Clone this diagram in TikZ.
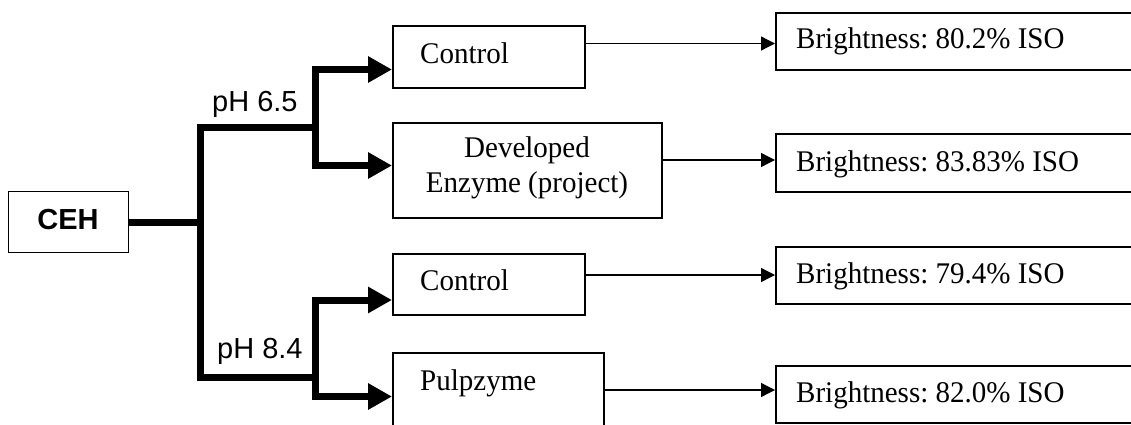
\documentclass[tikz,border=0pt]{standalone}
\usepackage{fontspec}
\setmainfont{Liberation Serif}[FakeStretch=0.967]
\newfontfamily\arialfont{Liberation Sans}
\usetikzlibrary{arrows.meta}
\frenchspacing
\begin{document}
\begin{tikzpicture}[x=1pt,y=-1pt,
  box/.style={draw, line width=1.6pt, rectangle, inner sep=0pt, anchor=north west},
  txt/.style={inner sep=0pt, anchor=base west, font=\fontsize{30}{36}\selectfont},
  ctxt/.style={txt, anchor=base},
  ptxt/.style={inner sep=0pt, anchor=base west, font=\arialfont\fontsize{29}{35}\selectfont},
  trunkline/.style={line width=7pt, line join=miter},
  branchline/.style={line width=7pt, line cap=rect},
  bigarrow/.style={line width=7pt, -{Triangle[length=24pt,width=25pt]}},
  smallarrow/.style={line width=1.3pt, -{Triangle[length=14pt,width=14pt]}},
]
\useasboundingbox (0,0) rectangle (1131,425);
\clip (0,0) rectangle (1131,425);

% boxes
\node[box, line width=1.2pt, minimum width=120pt, minimum height=61pt] (ceh) at (8,191) {};
\node[box, minimum width=192pt, minimum height=62pt] (c1) at (392,25) {};
\node[box, minimum width=269pt, minimum height=95pt] (dev) at (392,122) {};
\node[box, minimum width=192pt, minimum height=61pt] (c2) at (392,253) {};
\node[box, minimum width=211pt, minimum height=90pt] (pz) at (392,352) {};
\node[box, minimum width=370pt, minimum height=57pt] (b1) at (775,12) {};
\node[box, minimum width=370pt, minimum height=58pt] (b2) at (775,133) {};
\node[box, minimum width=370pt, minimum height=57pt] (b3) at (775,246) {};
\node[box, minimum width=370pt, minimum height=57pt] (b4) at (775,365) {};

% box texts
\node[ptxt, anchor=base, font=\arialfont\bfseries\fontsize{29}{35}\selectfont] (tceh) at (68,229) {CEH};
\node[txt] (tc1) at (420,64) {Control};
\node[ctxt] (tdev1) at (527,157.5) {Developed};
\node[ctxt] (tdev2) at (527,192.5) {Enzyme (project)};
\node[txt] (tc2) at (420,290) {Control};
\node[txt] (tpz) at (420,390) {Pulpzyme};
\node[txt] (tb1) at (796,49) {Brightness: 80.2\% ISO};
\node[txt] (tb2) at (796,171.5) {Brightness: 83.83\% ISO};
\node[txt] (tb3) at (796,283) {Brightness: 79.4\% ISO};
\node[txt] (tb4) at (796,402) {Brightness: 82.0\% ISO};

% pH labels
\node[ptxt] (ph1) at (212,111) {pH 6.5};
\node[ptxt] (ph2) at (217,358) {pH 8.4};

% junction points of the thick tree
\coordinate (j0) at (200,222.8);
\coordinate (jt) at (200,127.5);
\coordinate (jb) at (200,377);
\coordinate (ju) at (315.5,127.5);
\coordinate (jl) at (315.5,377);
\coordinate (ut) at (315.5,69.5);
\coordinate (ub) at (315.5,165.5);
\coordinate (lt) at (315.5,300);
\coordinate (lb) at (315.5,396.5);

% thick tree
\draw[line width=7pt] (ceh.east |- j0) -- (j0);
\draw[trunkline] (ju) -- (jt) -- (jb) -- (jl);
\draw[branchline] (ut) -- (ub);
\draw[branchline] (lt) -- (lb);
\draw[bigarrow] (ut) -- (c1.west |- ut);
\draw[bigarrow] (ub) -- (dev.west |- ub);
\draw[bigarrow] (lt) -- (c2.west |- lt);
\draw[bigarrow] (lb) -- (pz.west |- lb);

% thin arrows to the results
\coordinate (a1) at (0,43.5);
\coordinate (a2) at (0,160);
\coordinate (a3) at (0,275);
\coordinate (a4) at (0,390);
\draw[smallarrow] (c1.east |- a1) -- (b1.west |- a1);
\draw[smallarrow] (dev.east |- a2) -- (b2.west |- a2);
\draw[smallarrow] (c2.east |- a3) -- (b3.west |- a3);
\draw[smallarrow] (pz.east |- a4) -- (b4.west |- a4);
\end{tikzpicture}
\end{document}
